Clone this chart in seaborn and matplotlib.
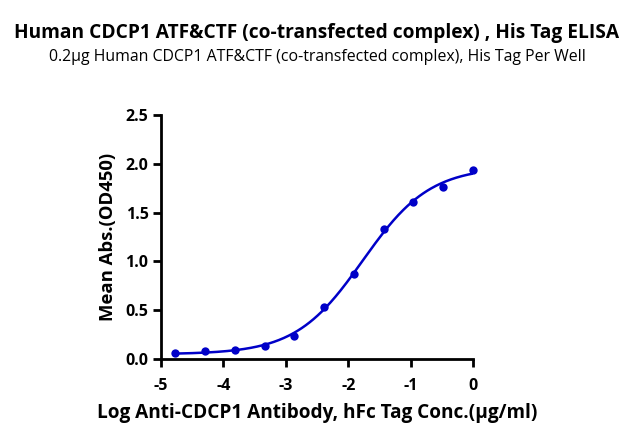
import numpy as np
import pandas as pd
import matplotlib
matplotlib.use('Agg')
import matplotlib.pyplot as plt
import seaborn as sns

# --- Data (3-fold dilution from 1 ug/ml) ---
LOG_CONC = [-4.771, -4.294, -3.817, -3.340, -2.863, -2.386, -1.908, -1.431, -0.954, -0.477, 0.0]
MEAN_ABS = [0.058, 0.082, 0.095, 0.133, 0.240, 0.533, 0.870, 1.330, 1.605, 1.765, 1.940]

TITLE = 'Human CDCP1 ATF&CTF (co-transfected complex) , His Tag ELISA'
SUBTITLE = '0.2\u00b5g Human CDCP1 ATF&CTF (co-transfected complex), His Tag Per Well'
X_LABEL = 'Log Anti-CDCP1 Antibody, hFc Tag Conc.(\u00b5g/ml)'
Y_LABEL = 'Mean Abs.(OD450)'
BLUE = '#0000C8'


def four_pl(x, p):
    bottom, top, logec50, hill = p
    return bottom + (top - bottom) / (1 + 10 ** ((logec50 - x) * hill))


def fit_four_pl(x, y, p0):
    # small Levenberg-Marquardt, numpy only
    p = np.array(p0, dtype=float)
    lam = 1e-2
    for _ in range(200):
        r = y - four_pl(x, p)
        J = np.zeros((len(x), 4))
        for i in range(4):
            dp = np.zeros(4)
            dp[i] = 1e-6
            J[:, i] = (four_pl(x, p + dp) - four_pl(x, p)) / 1e-6
        A = J.T @ J
        step = np.linalg.solve(A + lam * np.diag(np.diag(A)), J.T @ r)
        new_p = p + step
        if np.sum((y - four_pl(x, new_p)) ** 2) < np.sum(r ** 2):
            p = new_p
            lam *= 0.5
        else:
            lam *= 2
    return p


df = pd.DataFrame({'log_conc': LOG_CONC, 'mean_abs': MEAN_ABS})
params = fit_four_pl(df['log_conc'].values, df['mean_abs'].values, [0.05, 2.0, -1.8, 1.0])
x_fit = np.linspace(df['log_conc'].min(), df['log_conc'].max(), 300)
fit_df = pd.DataFrame({'log_conc': x_fit, 'mean_abs': four_pl(x_fit, params)})

sns.set_style('ticks')
plt.rcParams['font.family'] = ['Open Sans', 'DejaVu Sans']
plt.rcParams['text.color'] = 'black'
plt.rcParams['axes.labelcolor'] = 'black'
plt.rcParams['axes.unicode_minus'] = False

fig = plt.figure(figsize=(6.34, 4.4), dpi=100)
ax = fig.add_axes([161 / 634, 1 - 359 / 440, 312 / 634, 244 / 440])

sns.lineplot(data=fit_df, x='log_conc', y='mean_abs', color=BLUE, linewidth=1.8, ax=ax)
sns.scatterplot(data=df, x='log_conc', y='mean_abs', color=BLUE, s=36, edgecolor=BLUE,
                linewidth=0, ax=ax, zorder=3, clip_on=False)

ax.set_xlim(-5, 0)
ax.set_ylim(0, 2.5)
ax.set_xticks([-5, -4, -3, -2, -1, 0])
ax.set_yticks([0, 0.5, 1.0, 1.5, 2.0, 2.5])
ax.set_yticklabels(['0.0', '0.5', '1.0', '1.5', '2.0', '2.5'])
sns.despine(ax=ax)
for side in ['left', 'bottom']:
    ax.spines[side].set_linewidth(2)
    ax.spines[side].set_color('black')
ax.tick_params(width=2, length=6, labelsize=11.5, color='black', labelcolor='black')
for lbl in ax.get_xticklabels() + ax.get_yticklabels():
    lbl.set_fontweight('bold')
ax.tick_params(axis='x', pad=8)
ax.tick_params(axis='y', pad=3)

ax.set_xlabel(X_LABEL, fontsize=13.7, fontweight='bold', labelpad=6)
ax.set_ylabel(Y_LABEL, fontsize=13.3, fontweight='bold', labelpad=6)

fig.text(0.5, 1 - 33 / 440, TITLE, ha='center', va='center', fontsize=13.8, fontweight='bold')
fig.text(0.5, 1 - 57 / 440, SUBTITLE, ha='center', va='center', fontsize=11.4)

fig.savefig('out.png', dpi=100)
